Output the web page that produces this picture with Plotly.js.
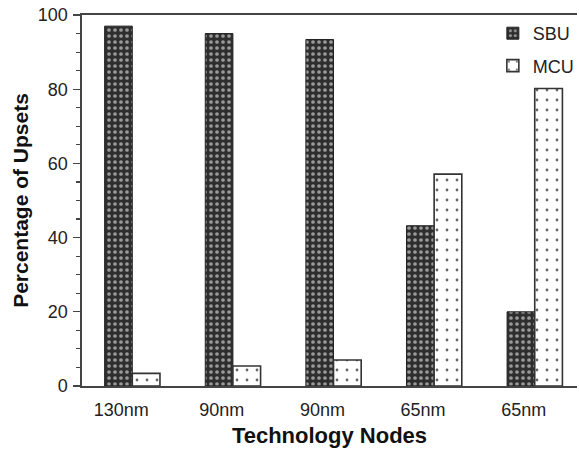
<!DOCTYPE html>
<html>
<head>
<meta charset="utf-8">
<script src="https://cdn.plot.ly/plotly-3.0.1.min.js"></script>
<style>html,body{margin:0;padding:0;background:#fff;overflow:hidden;}</style>
</head>
<body>
<div id="chart" style="width:579px;height:453px;"></div>
<script>
const nodes = ['130nm', '90nm', '90nm', '65nm', '65nm'];
const sbuValues = [97, 95, 93.4, 43.2, 20];
const mcuValues = [3.4, 5.4, 7.0, 57.1, 80.2];

const positions = nodes.map((_, i) => i);
const labelOffset = 0.11;

const sbu = {
  type: 'bar', name: 'SBU', x: positions, y: sbuValues,
  legendgroup: 'g1',
  marker: {
    color: '#333333',
    line: {color: '#222222', width: 1},
    pattern: {shape: '.', fgcolor: '#9a9a9a', bgcolor: '#2e2e2e', size: 6, solidity: 0.3, fillmode: 'replace'}
  },
  hoverinfo: 'skip'
};
const mcu = {
  type: 'bar', name: 'MCU', x: positions, y: mcuValues,
  legendgroup: 'g2',
  marker: {
    color: '#ffffff',
    line: {color: '#333333', width: 1.6},
    pattern: {shape: '.', fgcolor: '#666666', bgcolor: '#ffffff', size: 10, solidity: 0.06, fillmode: 'replace'}
  },
  hoverinfo: 'skip'
};

const layout = {
  width: 579, height: 453,
  margin: {l: 82, r: 0, t: 15, b: 67},
  paper_bgcolor: '#ffffff', plot_bgcolor: '#ffffff',
  font: {family: 'Liberation Sans, Arial, sans-serif', color: '#222222'},
  barmode: 'group', bargap: 0.45, bargroupgap: 0,
  showlegend: true,
  legend: {
    x: 0.83, y: 1.0, xanchor: 'left', yanchor: 'top',
    font: {size: 18, color: '#222222'},
    bgcolor: 'rgba(0,0,0,0)', traceorder: 'grouped', tracegroupgap: 6
  },
  xaxis: {
    type: 'linear', range: [-0.5, 4.42],
    tickmode: 'array', tickvals: positions.map(p => p - labelOffset), ticktext: nodes,
    showline: true, mirror: true, linecolor: '#444444', linewidth: 1.6,
    ticks: '', showgrid: false, zeroline: false,
    tickfont: {size: 18, color: '#222222'}, ticklabelstandoff: 7,
    title: {text: 'Technology Nodes', font: {size: 22, color: '#111111', family: 'Liberation Sans, Arial, sans-serif', weight: 'bold'}, standoff: 8}
  },
  yaxis: {
    range: [0, 100], tickmode: 'linear', tick0: 0, dtick: 20,
    showline: true, linecolor: '#444444', linewidth: 1.6,
    ticks: 'outside', ticklen: 7, tickwidth: 1.4, tickcolor: '#444444',
    minor: {dtick: 5, ticks: 'outside', ticklen: 4, tickwidth: 1.2, tickcolor: '#444444', showgrid: false},
    showgrid: false, zeroline: false,
    tickfont: {size: 18, color: '#222222'}, ticklabelstandoff: 2,
    title: {text: 'Percentage of Upsets', font: {size: 21, color: '#111111', family: 'Liberation Sans, Arial, sans-serif', weight: 'bold'}, standoff: 3}
  }
};

Plotly.newPlot('chart', [sbu, mcu], layout, {displayModeBar: false, staticPlot: true});
</script>
</body>
</html>
